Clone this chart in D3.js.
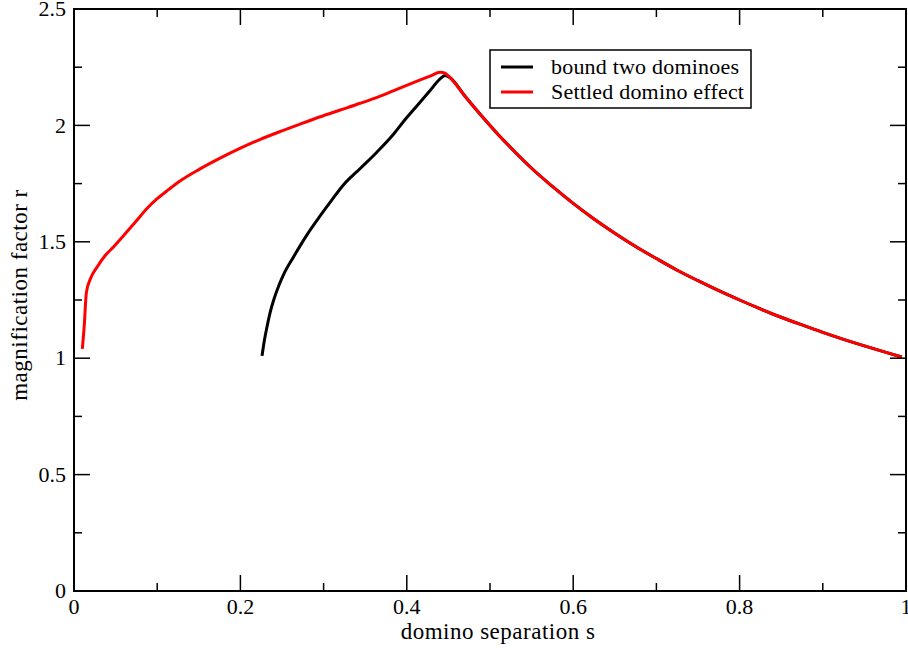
<!DOCTYPE html>
<html>
<head>
<meta charset="utf-8">
<script src="https://cdn.jsdelivr.net/npm/d3@7"></script>
<style>
body { margin: 0; background: #fff; }
text { font-family: "Liberation Serif", "Times New Roman", serif; }
</style>
</head>
<body>
<div class="chart"></div>
<script>
// rising branch of the bound two dominoes curve
const boundS = [0.226, 0.229, 0.232, 0.236, 0.240, 0.246, 0.252, 0.264, 0.280, 0.296, 0.310, 0.324, 0.344, 0.364, 0.384, 0.398, 0.410, 0.428, 0.440, 0.446];
const boundR = [1.010, 1.080, 1.135, 1.200, 1.250, 1.310, 1.360, 1.436, 1.530, 1.612, 1.680, 1.745, 1.815, 1.885, 1.962, 2.025, 2.075, 2.150, 2.200, 2.214];

// rising branch of the settled domino effect curve
const settledS = [0.010, 0.0125, 0.0148, 0.020, 0.028, 0.038, 0.048, 0.060, 0.074, 0.088, 0.100, 0.114, 0.127, 0.151, 0.175, 0.200, 0.224, 0.248, 0.272, 0.296, 0.320, 0.344, 0.368, 0.388, 0.408, 0.428, 0.440, 0.446];
const settledR = [1.040, 1.150, 1.280, 1.343, 1.393, 1.443, 1.480, 1.528, 1.586, 1.644, 1.685, 1.725, 1.760, 1.812, 1.858, 1.902, 1.940, 1.974, 2.006, 2.037, 2.066, 2.095, 2.126, 2.155, 2.184, 2.212, 2.228, 2.224];

// decaying branch, shared by both curves
const decayS = [0.452, 0.470, 0.490, 0.510, 0.530, 0.550, 0.575, 0.600, 0.625, 0.650, 0.675, 0.700, 0.725, 0.750, 0.775, 0.800, 0.825, 0.850, 0.875, 0.900, 0.925, 0.950, 0.975, 0.995];
const decayR = [2.205, 2.125, 2.040, 1.960, 1.886, 1.816, 1.738, 1.665, 1.598, 1.537, 1.480, 1.428, 1.378, 1.333, 1.290, 1.250, 1.212, 1.176, 1.143, 1.111, 1.081, 1.053, 1.026, 1.005];

const xTicks = [0, 0.2, 0.4, 0.6, 0.8, 1];
const xTickLabels = ["0", "0.2", "0.4", "0.6", "0.8", "1"];
const yTicks = [0, 0.5, 1, 1.5, 2, 2.5];
const yTickLabels = ["0", "0.5", "1", "1.5", "2", "2.5"];
const xMinor = [0.1, 0.3, 0.5, 0.7, 0.9];
const yMinor = [0.25, 0.75, 1.25, 1.75, 2.25];

const legendNames = ["bound two dominoes", "Settled domino effect"];
const legendColors = ["#000000", "#ff0000"];

const width = 908;
const height = 648;
const pLeft = 74, pRight = 906, pTop = 9, pBottom = 591;

const x = d3.scaleLinear().domain([0, 1]).range([pLeft, pRight]);
const y = d3.scaleLinear().domain([0, 2.5]).range([pBottom, pTop]);

const svg = d3.select('.chart')
	.append('svg')
	.attr('width', width)
	.attr('height', height)

const toPoints = (ss, rs) => ss.map((s, i) => [s, rs[i]]);
const boundData = toPoints(boundS.concat(decayS), boundR.concat(decayR));
const settledData = toPoints(settledS.concat(decayS), settledR.concat(decayR));

const line = d3.line()
	.curve(d3.curveMonotoneX)
	.x(d => x(d[0]))
	.y(d => y(d[1]));

svg.append("path")
	.datum(boundData)
	.attr("d", line)
	.attr("fill", "none")
	.attr("stroke", legendColors[0])
	.attr("stroke-width", 3)
	.attr("stroke-linejoin", "round")

svg.append("path")
	.datum(settledData)
	.attr("d", line)
	.attr("fill", "none")
	.attr("stroke", legendColors[1])
	.attr("stroke-width", 3)
	.attr("stroke-linejoin", "round")

// ticks on all four sides, pointing inward
const tickG = svg.append("g").attr("stroke", "#000").attr("stroke-width", 1.5);
function addTicks(vals, len) {
	vals.forEach(v => {
		tickG.append("line").attr("x1", x(v)).attr("x2", x(v)).attr("y1", pBottom).attr("y2", pBottom - len);
		tickG.append("line").attr("x1", x(v)).attr("x2", x(v)).attr("y1", pTop).attr("y2", pTop + len);
	});
}
function addYTicks(vals, len) {
	vals.forEach(v => {
		tickG.append("line").attr("y1", y(v)).attr("y2", y(v)).attr("x1", pLeft).attr("x2", pLeft + len);
		tickG.append("line").attr("y1", y(v)).attr("y2", y(v)).attr("x1", pRight).attr("x2", pRight - len);
	});
}
addTicks(xTicks, 16);
addTicks(xMinor, 8);
addYTicks(yTicks, 16);
addYTicks(yMinor, 8);

svg.append("rect")
	.attr("x", pLeft)
	.attr("y", pTop)
	.attr("width", pRight - pLeft)
	.attr("height", pBottom - pTop)
	.attr("fill", "none")
	.attr("stroke", "#000")
	.attr("stroke-width", 2)

svg.selectAll(".xlab")
	.data(xTicks)
	.enter()
	.append("text")
	.attr("x", d => x(d))
	.attr("y", 614)
	.attr("font-size", 22)
	.attr("text-anchor", "middle")
	.text((d, i) => xTickLabels[i])

svg.selectAll(".ylab")
	.data(yTicks)
	.enter()
	.append("text")
	.attr("x", 66)
	.attr("y", d => y(d))
	.attr("dy", "0.33em")
	.attr("font-size", 22)
	.attr("text-anchor", "end")
	.text((d, i) => yTickLabels[i])

svg.append("text")
	.attr("x", 498)
	.attr("y", 639)
	.attr("font-size", 23)
	.attr("letter-spacing", 0.5)
	.attr("text-anchor", "middle")
	.text("domino separation s")

svg.append("text")
	.attr("transform", `translate(27, 295) rotate(-90)`)
	.attr("font-size", 23)
	.attr("letter-spacing", 0.5)
	.attr("text-anchor", "middle")
	.text("magnification factor r")

// legend
const legend = svg.append("g");
legend.append("rect")
	.attr("x", 490)
	.attr("y", 50)
	.attr("width", 261)
	.attr("height", 58)
	.attr("fill", "#fff")
	.attr("stroke", "#000")
	.attr("stroke-width", 1.5)

legendNames.forEach((name, i) => {
	const ly = 67 + i * 25;
	legend.append("line")
		.attr("x1", 501).attr("x2", 533)
		.attr("y1", ly).attr("y2", ly)
		.attr("stroke", legendColors[i])
		.attr("stroke-width", 3)
	legend.append("text")
		.attr("x", 551)
		.attr("y", ly)
		.attr("dy", "0.33em")
		.attr("font-size", 22)
		.attr("letter-spacing", 0.2)
		.text(name)
});
</script>
</body>
</html>
